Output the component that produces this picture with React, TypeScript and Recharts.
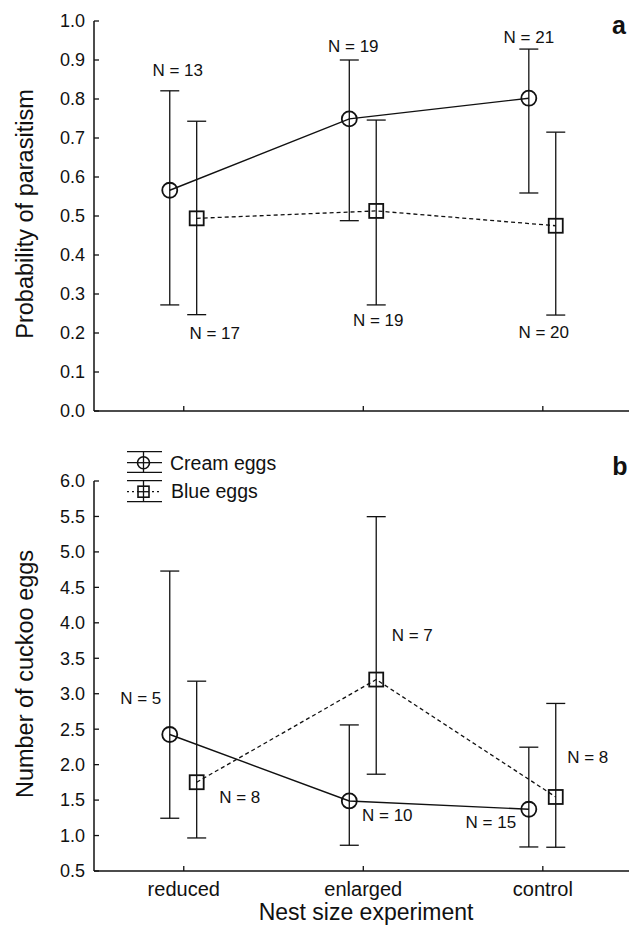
import React from 'react';
import { ComposedChart, Scatter, XAxis, YAxis, ErrorBar, Label } from 'recharts';

// ---------- data ----------
const categories = ['reduced', 'enlarged', 'control'];

const parasitismTicks = [0, 0.1, 0.2, 0.3, 0.4, 0.5, 0.6, 0.7, 0.8, 0.9, 1.0];
const eggsTicks = [0.5, 1.0, 1.5, 2.0, 2.5, 3.0, 3.5, 4.0, 4.5, 5.0, 5.5, 6.0];

const parasitismCream = [0.566, 0.749, 0.802];
const parasitismCreamLow = [0.272, 0.488, 0.559];
const parasitismCreamHigh = [0.821, 0.9, 0.928];
const parasitismCreamN = [13, 19, 21];

const parasitismBlue = [0.494, 0.513, 0.475];
const parasitismBlueLow = [0.247, 0.272, 0.246];
const parasitismBlueHigh = [0.743, 0.746, 0.715];
const parasitismBlueN = [17, 19, 20];

const eggsCream = [2.425, 1.488, 1.371];
const eggsCreamLow = [1.244, 0.863, 0.839];
const eggsCreamHigh = [4.73, 2.56, 2.246];
const eggsCreamN = [5, 10, 15];

const eggsBlue = [1.752, 3.2, 1.544];
const eggsBlueLow = [0.966, 1.865, 0.835];
const eggsBlueHigh = [3.177, 5.497, 2.863];
const eggsBlueN = [8, 7, 8];

// ---------- layout / style ----------
const FONT = '"Liberation Sans", Arial, Helvetica, sans-serif';
const CREAM_SHIFT = -0.078;
const BLUE_SHIFT = 0.072;
const X_DOMAIN: [number, number] = [-0.5, 2.48];
const INK = '#111';

// label offsets (px) from marker centre
const topCreamLabelPos = [[8, -120], [4, -72], [0, -61]];
const topBlueLabelPos = [[18, 115], [2, 110], [-12, 107]];
const botCreamLabelPos = [[-29, -36], [38, 15], [-38, 13]];
const botBlueLabelPos = [[43, 15], [36, -44], [32, -39]];

function buildRows(vals: number[], lo: number[], hi: number[], ns: number[], shift: number) {
  return vals.map((v, i) => ({ x: i + shift, y: v, err: [v - lo[i], hi[i] - v], n: ns[i], li: i }));
}

const topCream = buildRows(parasitismCream, parasitismCreamLow, parasitismCreamHigh, parasitismCreamN, CREAM_SHIFT);
const topBlue = buildRows(parasitismBlue, parasitismBlueLow, parasitismBlueHigh, parasitismBlueN, BLUE_SHIFT);
const botCream = buildRows(eggsCream, eggsCreamLow, eggsCreamHigh, eggsCreamN, CREAM_SHIFT);
const botBlue = buildRows(eggsBlue, eggsBlueLow, eggsBlueHigh, eggsBlueN, BLUE_SHIFT);

const makeShape = (kind: 'circle' | 'square', offsets: number[][]) => (props: any) => {
  const { cx, cy, payload } = props;
  const [dx, dy] = offsets[payload.li];
  return (
    <g>
      {kind === 'circle' ? (
        <circle cx={cx} cy={cy} r={7.5} fill="none" stroke={INK} strokeWidth={1.8} />
      ) : (
        <rect x={cx - 7} y={cy - 7} width={14} height={14} fill="none" stroke={INK} strokeWidth={1.8} />
      )}
      <text
        x={cx + dx}
        y={cy + dy}
        textAnchor="middle"
        dominantBaseline="central"
        fontSize={17}
        fontFamily={FONT}
        fill={INK}
      >
        {`N = ${payload.n}`}
      </text>
    </g>
  );
};

const yTitle = (text: string) => (p: any) => {
  const vb = p.viewBox;
  const cx = 25;
  const cy = vb.y + vb.height / 2 - 2;
  return (
    <text
      x={cx}
      y={cy}
      transform={`rotate(-90, ${cx}, ${cy})`}
      textAnchor="middle"
      dominantBaseline="central"
      fontSize={23.5}
      fontFamily={FONT}
      fill={INK}
    >
      {text}
    </text>
  );
};

const xTitle = (p: any) => (
  <text x={366} y={480} textAnchor="middle" fontSize={23} fontFamily={FONT} fill={INK}>
    Nest size experiment
  </text>
);

const tickStyle = { fontSize: 18, fontFamily: FONT, fill: INK };
const axisLine = { stroke: INK, strokeWidth: 1.5 };
const tickLine = { stroke: INK, strokeWidth: 1.3 };
const errProps = { stroke: INK, strokeWidth: 1.3 };

export default function App() {
  return (
    <div style={{ position: 'absolute', left: 0, top: 0, width: 629, height: 934, background: '#fff', overflow: 'hidden' }}>
      <div style={{ position: 'absolute', left: 0, top: 0 }}>
        <ComposedChart width={629} height={440} margin={{ top: 21, right: 0, bottom: 0, left: 0 }}>
          <XAxis
            type="number"
            dataKey="x"
            domain={X_DOMAIN}
            ticks={[0, 1, 2]}
            tickFormatter={() => ''}
            height={29}
            tickSize={-5}
            axisLine={axisLine}
            tickLine={tickLine}
            allowDataOverflow
          />
          <YAxis
            type="number"
            dataKey="y"
            domain={[0, 1]}
            ticks={parasitismTicks}
            tickFormatter={(v: number) => v.toFixed(1)}
            width={94}
            tickSize={-5}
            tickMargin={14}
            tick={tickStyle}
            axisLine={axisLine}
            tickLine={tickLine}
            interval={0}
          >
            <Label content={yTitle('Probability of parasitism')} />
          </YAxis>
          <Scatter
            data={topCream}
            dataKey="y"
            isAnimationActive={false}
            fill={INK}
            line={{ stroke: INK, strokeWidth: 1.4 }}
            shape={makeShape('circle', topCreamLabelPos)}
          >
            <ErrorBar dataKey="err" direction="y" width={9.5} {...errProps} />
          </Scatter>
          <Scatter
            data={topBlue}
            dataKey="y"
            isAnimationActive={false}
            fill={INK}
            line={{ stroke: INK, strokeWidth: 1.3, strokeDasharray: '4 3' }}
            shape={makeShape('square', topBlueLabelPos)}
          >
            <ErrorBar dataKey="err" direction="y" width={9.5} {...errProps} />
          </Scatter>
        </ComposedChart>
      </div>
      <div style={{ position: 'absolute', left: 0, top: 440 }}>
        <ComposedChart width={629} height={494} margin={{ top: 41, right: 0, bottom: 0, left: 0 }}>
          <XAxis
            type="number"
            dataKey="x"
            domain={X_DOMAIN}
            ticks={[0, 1, 2]}
            tickFormatter={(v: number) => categories[v] ?? ''}
            height={63}
            tickSize={-5}
            tickMargin={15.8}
            tick={{ ...tickStyle, fontSize: 20 }}
            axisLine={axisLine}
            tickLine={tickLine}
            allowDataOverflow
          >
            <Label content={xTitle} />
          </XAxis>
          <YAxis
            type="number"
            dataKey="y"
            domain={[0.5, 6]}
            ticks={eggsTicks}
            tickFormatter={(v: number) => v.toFixed(1)}
            width={94}
            tickSize={-5}
            tickMargin={14}
            tick={tickStyle}
            axisLine={axisLine}
            tickLine={tickLine}
            interval={0}
          >
            <Label content={yTitle('Number of cuckoo eggs')} />
          </YAxis>
          <Scatter
            data={botCream}
            dataKey="y"
            isAnimationActive={false}
            fill={INK}
            line={{ stroke: INK, strokeWidth: 1.4 }}
            shape={makeShape('circle', botCreamLabelPos)}
          >
            <ErrorBar dataKey="err" direction="y" width={9.5} {...errProps} />
          </Scatter>
          <Scatter
            data={botBlue}
            dataKey="y"
            isAnimationActive={false}
            fill={INK}
            line={{ stroke: INK, strokeWidth: 1.3, strokeDasharray: '4 3' }}
            shape={makeShape('square', botBlueLabelPos)}
          >
            <ErrorBar dataKey="err" direction="y" width={9.5} {...errProps} />
          </Scatter>
        </ComposedChart>
      </div>
      <svg
        width={629}
        height={934}
        style={{ position: 'absolute', left: 0, top: 0, pointerEvents: 'none' }}
      >
        <text x={619} y={34} textAnchor="middle" fontSize={25} fontWeight="bold" fontFamily={FONT} fill={INK}>a</text>
        <text x={620} y={475} textAnchor="middle" fontSize={25} fontWeight="bold" fontFamily={FONT} fill={INK}>b</text>
        {/* legend */}
        <g stroke={INK} strokeWidth={1.3} fill="none">
          <line x1={127} x2={162} y1={451.7} y2={451.7} />
          <line x1={127} x2={162} y1={462.7} y2={462.7} />
          <line x1={127} x2={162} y1={472.3} y2={472.3} />
          <line x1={143.5} x2={143.5} y1={451.7} y2={472.3} />
          <circle cx={143.5} cy={462.7} r={6} fill="#fff" strokeWidth={1.6} />
          <line x1={143.5} x2={143.5} y1={456.7} y2={468.7} />
          <line x1={137.5} x2={149.5} y1={462.7} y2={462.7} />

          <line x1={127} x2={162} y1={480.7} y2={480.7} />
          <line x1={127} x2={162} y1={491.7} y2={491.7} strokeDasharray="2 3" />
          <line x1={127} x2={162} y1={501.7} y2={501.7} />
          <line x1={143.5} x2={143.5} y1={480.7} y2={501.7} />
          <rect x={138} y={486.2} width={11} height={11} fill="#fff" strokeWidth={1.6} />
          <line x1={143.5} x2={143.5} y1={486.2} y2={497.2} />
          <line x1={138} x2={149} y1={491.7} y2={491.7} />
        </g>
        <text x={170} y={469.5} fontSize={19.5} fontFamily={FONT} fill={INK}>Cream eggs</text>
        <text x={171} y={498} fontSize={19.5} fontFamily={FONT} fill={INK}>Blue eggs</text>
      </svg>
    </div>
  );
}
